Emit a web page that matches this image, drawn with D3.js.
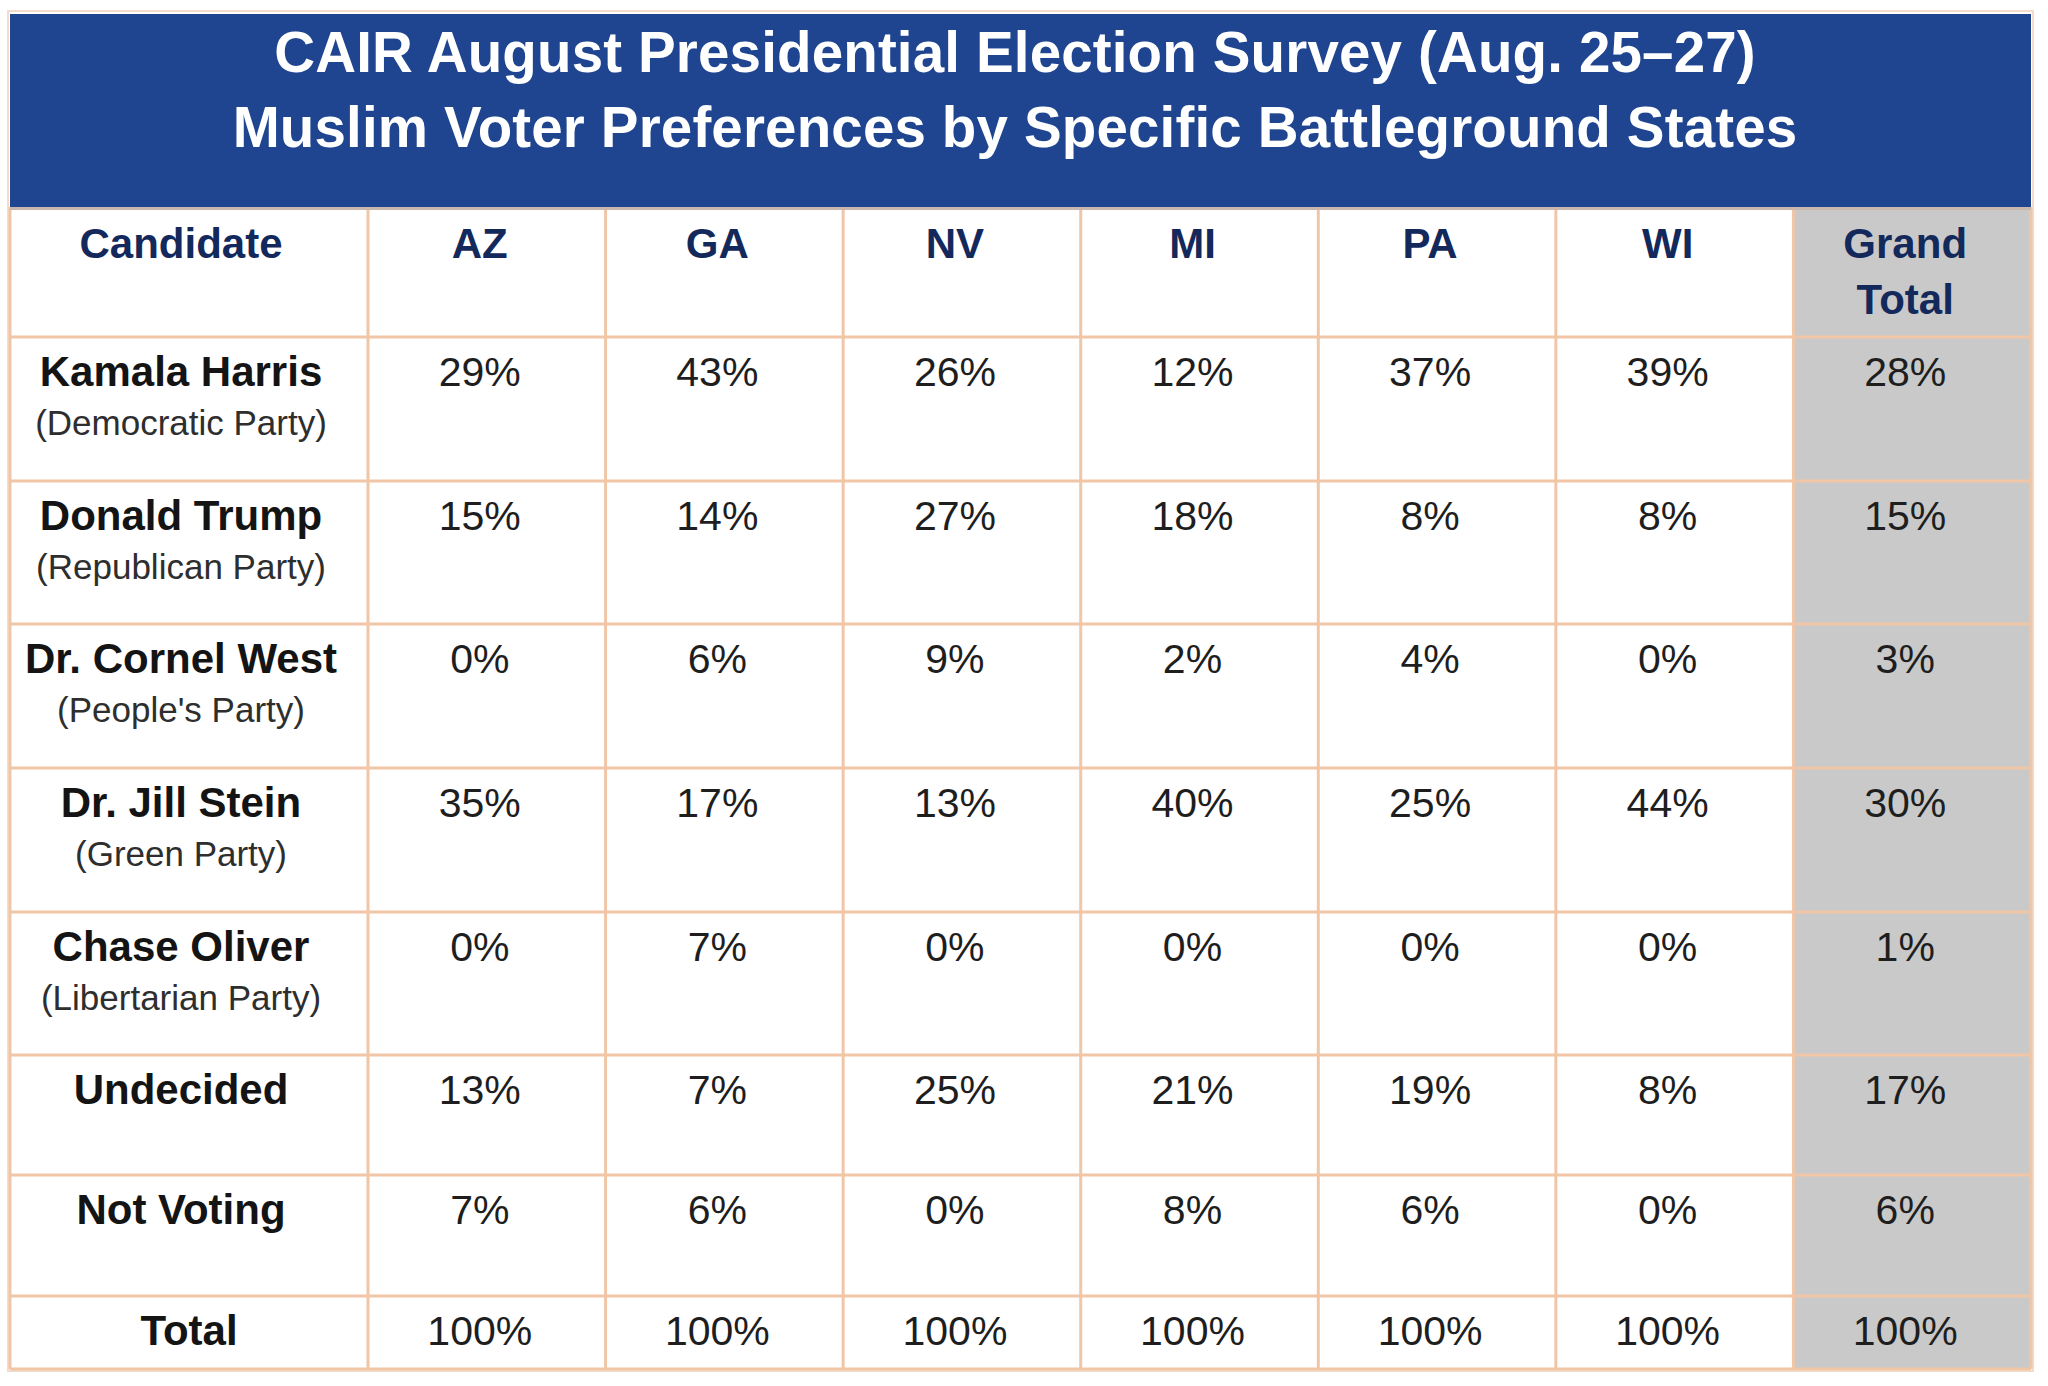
<!DOCTYPE html>
<html>
<head>
<meta charset="utf-8">
<script src="https://cdn.jsdelivr.net/npm/d3@7"></script>
<style>
  html, body { margin: 0; padding: 0; background: #ffffff; }
  svg { display: block; }
  text { font-family: "Liberation Sans", Arial, sans-serif; }
</style>
</head>
<body>
<svg id="chart" width="2048" height="1386"></svg>
<script>
// ---- data ----
const titleLines = [
  "CAIR August Presidential Election Survey (Aug. 25\u201327)",
  "Muslim Voter Preferences by Specific Battleground States"
];
const firstHeader = "Candidate";
const columns = ["AZ", "GA", "NV", "MI", "PA", "WI", "Grand Total"];
const rowLabels = ["Kamala Harris", "Donald Trump", "Dr. Cornel West", "Dr. Jill Stein",
                   "Chase Oliver", "Undecided", "Not Voting", "Total"];
const rowParties = ["(Democratic Party)", "(Republican Party)", "(People's Party)", "(Green Party)",
                    "(Libertarian Party)", "", "", ""];
const harrisVals    = [29, 43, 26, 12, 37, 39, 28];
const trumpVals     = [15, 14, 27, 18, 8, 8, 15];
const westVals      = [0, 6, 9, 2, 4, 0, 3];
const steinVals     = [35, 17, 13, 40, 25, 44, 30];
const oliverVals    = [0, 7, 0, 0, 0, 0, 1];
const undecidedVals = [13, 7, 25, 21, 19, 8, 17];
const notVotingVals = [7, 6, 0, 8, 6, 0, 6];
const totalVals     = [100, 100, 100, 100, 100, 100, 100];
const tableValues = [harrisVals, trumpVals, westVals, steinVals, oliverVals,
                     undecidedVals, notVotingVals, totalVals];

// ---- layout ----
const left = 10, right = 2031, firstColRight = 368;
const titleTop = 14, titleBottom = 207;
const headerBottom = 337;
const rowHeights = [144, 143, 144, 144, 143, 120, 121, 73];
const lineColor = "#f1c6a6";
const svg = d3.select("#chart");

const x = d3.scaleBand().domain(columns).range([firstColRight, right]).paddingInner(0).paddingOuter(0);
const rowTops = [];
rowHeights.reduce((acc, h) => { rowTops.push(acc); return acc + h; }, headerBottom);
const tableBottom = headerBottom + d3.sum(rowHeights);
const y = d3.scaleOrdinal().domain(d3.range(rowLabels.length)).range(rowTops);

// outer frame
svg.append("rect").attr("x", left - 2).attr("y", titleTop - 3)
  .attr("width", right - left + 4).attr("height", tableBottom - titleTop + 5)
  .attr("fill", "none").attr("stroke", "#f3dccb").attr("stroke-width", 2);

// title band
svg.append("rect").attr("x", left).attr("y", titleTop)
  .attr("width", right - left).attr("height", titleBottom - titleTop)
  .attr("fill", "#1f4590");
svg.selectAll("text.title").data(titleLines).join("text")
  .attr("class", "title")
  .attr("x", 1015).attr("y", (d, i) => 72 + i * 75)
  .attr("text-anchor", "middle")
  .attr("fill", "#ffffff").attr("font-weight", "bold").attr("font-size", 56.5)
  .attr("letter-spacing", 0.15)
  .text(d => d);

// grand total column background
svg.append("rect").attr("x", x("Grand Total")).attr("y", titleBottom)
  .attr("width", x.bandwidth()).attr("height", tableBottom - titleBottom)
  .attr("fill", "#c9c9c9");

// grid lines
const g = svg.append("g").attr("stroke", lineColor).attr("stroke-width", 3);
const vLines = [left, firstColRight].concat(columns.map(c => x(c) + x.bandwidth()));
g.selectAll("line.v").data(vLines).join("line").attr("class", "v")
  .attr("x1", d => d).attr("x2", d => d)
  .attr("y1", titleBottom).attr("y2", tableBottom);
const hLines = rowTops.concat([tableBottom]);
g.selectAll("line.h").data(hLines).join("line").attr("class", "h")
  .attr("x1", left).attr("x2", right)
  .attr("y1", d => d).attr("y2", d => d);
// line just below title band
svg.append("line").attr("x1", left).attr("x2", right)
  .attr("y1", titleBottom + 1.5).attr("y2", titleBottom + 1.5)
  .attr("stroke", "#c9b7ad").attr("stroke-width", 3);

// header
const headerColor = "#13295b";
const labelX = 181;
const shift = -7;
svg.append("text").attr("x", labelX).attr("y", titleBottom + 51)
  .attr("text-anchor", "middle").attr("font-weight", "bold").attr("font-size", 42)
  .attr("fill", headerColor).text(firstHeader);
svg.selectAll("text.colhead").data(columns).join("text")
  .attr("class", "colhead")
  .attr("text-anchor", "middle").attr("font-weight", "bold").attr("font-size", 42)
  .attr("fill", headerColor)
  .each(function(d) {
    const words = d.split(" ");
    const t = d3.select(this);
    words.forEach((w, i) => {
      t.append("tspan").attr("x", x(d) + x.bandwidth() / 2 + shift)
        .attr("y", titleBottom + 51 + i * 56).text(w);
    });
  });

// row labels
const rows = svg.selectAll("g.row").data(rowLabels).join("g").attr("class", "row");
rows.append("text")
  .attr("x", (d, i) => i === rowLabels.length - 1 ? 189 : labelX)
  .attr("y", (d, i) => y(i) + 49)
  .attr("text-anchor", "middle").attr("font-weight", "bold").attr("font-size", 42)
  .attr("fill", "#141414").text(d => d);
rows.filter((d, i) => rowParties[i] !== "").append("text")
  .attr("x", labelX)
  .attr("y", (d, i) => y(rowLabels.indexOf(d)) + 98)
  .attr("text-anchor", "middle").attr("font-size", 35)
  .attr("fill", "#2e2e2e").text(d => rowParties[rowLabels.indexOf(d)]);

// values
rows.each(function(d, i) {
  d3.select(this).selectAll("text.val").data(tableValues[i]).join("text")
    .attr("class", "val")
    .attr("x", (v, j) => x(columns[j]) + x.bandwidth() / 2 + shift)
    .attr("y", y(i) + 49)
    .attr("text-anchor", "middle").attr("font-size", 41)
    .attr("fill", "#1e1e1e")
    .text(v => v + "%");
});
</script>
</body>
</html>
